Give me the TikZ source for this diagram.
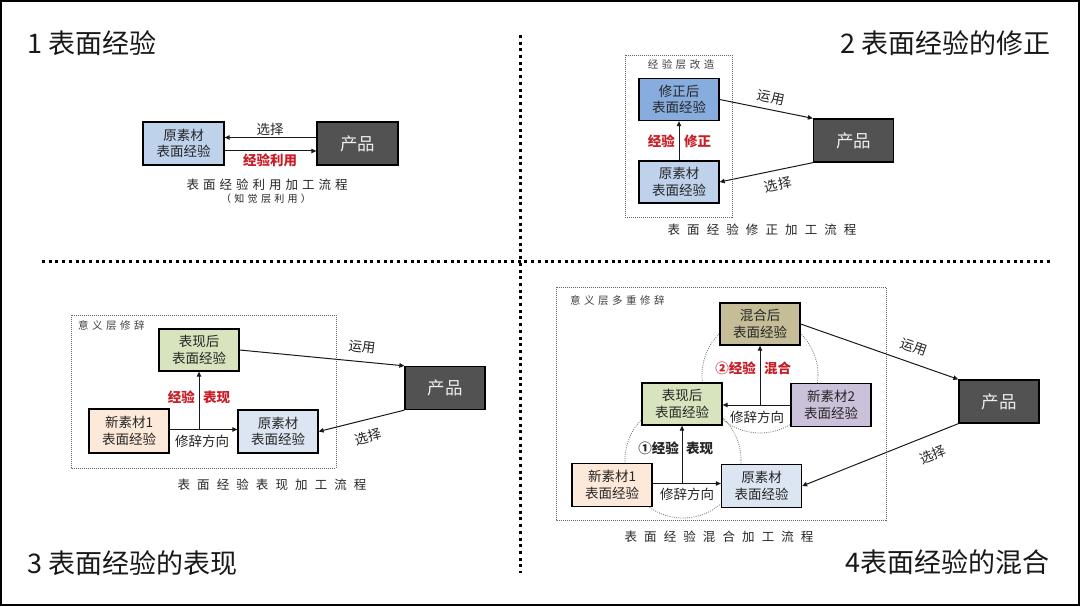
\documentclass[tikz,border=0pt]{standalone}
\usepackage{fontspec}
\setmainfont{Noto Sans CJK SC}
\usetikzlibrary{arrows.meta}
\definecolor{cred}{RGB}{200,30,40}
\definecolor{prodgray}{RGB}{82,82,82}
\definecolor{blueA}{RGB}{190,210,236}
\definecolor{blueB}{RGB}{135,172,222}
\definecolor{blueC}{RGB}{220,230,242}
\definecolor{greenA}{RGB}{215,228,189}
\definecolor{peachA}{RGB}{253,233,217}
\definecolor{purpleA}{RGB}{204,193,218}
\definecolor{oliveA}{RGB}{196,189,151}
\makeatletter
\newcommand\myspaced[2]{\def\msp@first{1}\@tfor\msp@c:=#2\do{\ifx\msp@first\@empty\hspace{#1}\fi\let\msp@first\@empty\msp@c}}
\makeatother
\tikzset{
 bx/.style={draw=black, line width=1.3pt, minimum width=80pt, minimum height=43pt, align=center, inner sep=0pt, font=\fontsize{13.5}{16.5}\selectfont, text=black!85},
 prod/.style={bx, fill=prodgray, text=white!93!black, font=\fontsize{17.5}{20}\selectfont},
 arr/.style={-{Triangle[length=5pt,width=4.5pt]}, line width=1pt, draw=black!90},
 lbl/.style={font=\fontsize{13.5}{16}\selectfont, inner sep=0pt, text=black!85},
 rlbl/.style={font=\bfseries\fontsize{13.5}{16}\selectfont, inner sep=0pt, text=cred},
 blbl/.style={rlbl, text=black!85},
 captxt/.style={font=\fontsize{12.5}{14}\selectfont, text=black!85, inner sep=0pt},
 frm/.style={draw=black!60, line width=0.8pt, dash pattern=on 1pt off 1pt},
 frml/.style={font=\fontsize{10.5}{12}\selectfont, text=black!75, inner sep=0pt},
 sepline/.style={line width=3pt, dash pattern=on 3pt off 3.7pt},
 ttl/.style={font=\fontsize{27}{30}\selectfont, text=black!90, inner sep=0pt},
 circ/.style={draw=black!55, line width=0.7pt, dash pattern=on 1pt off 1.2pt},
}
\begin{document}
\begin{tikzpicture}[x=1pt,y=-1pt]
\useasboundingbox (0,0) rectangle (1080,607);
\fill[white] (0,0) rectangle (1080,607);
\draw[line width=1.5pt] (1,1) rectangle (1079,605);
% separators
\draw[sepline] (520,35) -- (520,573);
\draw[sepline] (42,261) -- (1050,261);
% titles
\node[ttl, anchor=west] (t1) at (27,43) {1 表面经验};
\node[ttl, anchor=east] (t2) at (1051,43) {2 表面经验的修正};
\node[ttl, anchor=west] (t3) at (27,563) {3 表面经验的表现};
\node[ttl, anchor=east] (t4) at (1050,562) {4表面经验的混合};
% ---------- panel 1
\node[bx, fill=blueA, minimum width=81pt] (a1) at (183.5,143.5) {原素材\\表面经验};
\node[prod, minimum width=81pt] (p1) at (357.5,143.5) {产品};
\draw[arr] ([yshift=6pt]p1.west) -- ([yshift=6pt]a1.east);
\draw[arr] ([yshift=-7.5pt]a1.east) -- ([yshift=-7.5pt]p1.west);
\node[lbl] (l1a) at (270,129) {选择};
\node[rlbl] (l1b) at (270,160) {经验利用};
\node[captxt] (c1) at (267,185) {\myspaced{4pt}{表面经验利用加工流程}};
\node[captxt, font=\fontsize{10}{12}\selectfont] (c1b) at (266,199) {\myspaced{3.3pt}{（知觉层利用）}};
% ---------- panel 2
\draw[frm] (625,55) rectangle (732,217);
\node[frml] (f2) at (681,65) {\myspaced{3.5pt}{经验层改造}};
\node[bx, fill=blueB, minimum height=42pt] (m2) at (679,99.5) {修正后\\表面经验};
\node[bx, fill=blueA, minimum height=42pt] (a2) at (679,182) {原素材\\表面经验};
\draw[arr] (a2) -- (m2);
\node[rlbl, anchor=east] (l2a) at (675,141) {经验};
\node[rlbl, anchor=west] (l2b) at (684,141) {修正};
\node[prod] (p2) at (853.5,140.5) {产品};
\draw[arr] (m2.east) -- (p2.north west);
\draw[arr] (p2.south west) -- (a2.east);
\node[lbl, rotate=-12] (l2c) at (771,98) {运用};
\node[lbl, rotate=12] (l2d) at (778,185) {选择};
\node[captxt] (c2) at (762,230) {\myspaced{7.1pt}{表面经验修正加工流程}};
% ---------- panel 3
\draw[frm] (71,315) rectangle (336,468);
\node[frml, anchor=west] (f3) at (78,326) {\myspaced{3.5pt}{意义层修辞}};
\node[bx, fill=greenA, minimum height=42pt] (e3) at (199,350) {表现后\\表面经验};
\node[bx, fill=peachA, minimum height=44pt] (n3) at (129,431) {新素材1\\表面经验};
\node[bx, fill=blueC, minimum height=43pt] (a3) at (278,431.5) {原素材\\表面经验};
\draw[arr] ([yshift=1.5pt]n3.east) -- ([yshift=1.5pt]n3.east -| a3.west);
\coordinate (j3) at ([yshift=1.5pt]e3.south |- n3.east);
\draw[arr] (j3) -- (e3.south);
\node[lbl] (l3a) at (202,441) {修辞方向};
\node[rlbl, anchor=east] (l3b) at (195,397) {经验};
\node[rlbl, anchor=west] (l3c) at (203,397) {表现};
\node[prod] (p3) at (445,388) {产品};
\draw[arr] (e3.east) -- (p3.north west);
\draw[arr] (p3.south west) -- (a3.east);
\node[lbl, rotate=-7] (l3d) at (362,347) {运用};
\node[lbl, rotate=15] (l3e) at (368,437) {选择};
\node[captxt] (c3) at (272,485) {\myspaced{7.1pt}{表面经验表现加工流程}};
% ---------- panel 4
\draw[frm] (556,287) rectangle (886,520);
\node[frml, anchor=west] (f4) at (570,301) {\myspaced{3.5pt}{意义层多重修辞}};
\draw[circ] (683,460) circle[radius=58pt];
\draw[circ] (760,375) circle[radius=58pt];
\node[bx, fill=oliveA, minimum height=42pt] (x4) at (760,324) {混合后\\表面经验};
\node[bx, fill=greenA, minimum height=42pt] (e4) at (682,404) {表现后\\表面经验};
\node[bx, fill=purpleA] (n42) at (831,405) {新素材2\\表面经验};
\node[bx, fill=peachA] (n41) at (612,485) {新素材1\\表面经验};
\node[bx, fill=blueC] (a4) at (761.5,486) {原素材\\表面经验};
\draw[arr] ([yshift=1.5pt]n41.east) -- ([yshift=1.5pt]n41.east -| a4.west);
\coordinate (j41) at ([yshift=1.5pt]e4.south |- n41.east);
\draw[arr] (j41) -- (e4.south);
\draw[arr] (n42.west) -- (n42.west -| e4.east);
\coordinate (j42) at (x4.south |- n42.west);
\draw[arr] (j42) -- (x4.south);
\node[lbl] (l4a) at (687,494) {修辞方向};
\node[lbl] (l4b) at (757,417) {修辞方向};
\node[blbl, anchor=east] (l4c) at (679,448) {①经验};
\node[blbl, anchor=west] (l4d) at (686,448) {表现};
\node[rlbl, anchor=east] (l4e) at (756,368) {②经验};
\node[rlbl, anchor=west] (l4f) at (764,368) {混合};
\node[prod] (p4) at (999,401.5) {产品};
\draw[arr] (x4.east) -- (p4.north west);
\draw[arr] (p4.south west) -- (a4.east);
\node[lbl, rotate=-19] (l4g) at (914,347) {运用};
\node[lbl, rotate=22] (l4h) at (933,455) {选择};
\node[captxt] (c4) at (719,537) {\myspaced{7.1pt}{表面经验混合加工流程}};
\end{tikzpicture}
\end{document}
